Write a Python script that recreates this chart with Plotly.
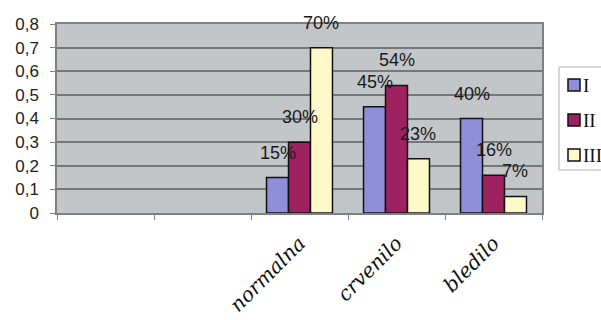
import plotly.graph_objects as go

# Categories on the x axis (the first two slots are left blank)
categories = ["", " ", "normalna", "crvenilo", "bledilo"]
series_names = ["I", "II", "III"]
series_values = {
    "I":   [None, None, 0.15, 0.45, 0.40],
    "II":  [None, None, 0.30, 0.54, 0.16],
    "III": [None, None, 0.70, 0.23, 0.07],
}
y_ticks = [0, 0.1, 0.2, 0.3, 0.4, 0.5, 0.6, 0.7, 0.8]

colors = {"I": "#8F8FD9", "II": "#9E2260", "III": "#FFF9C9"}

W, H = 601, 320
margin = dict(l=57, r=59, t=24, b=107)
bargap = 0.32
plot_w = W - margin["l"] - margin["r"]
plot_h = H - margin["t"] - margin["b"]


def px_x(px):
    """Pixel column -> paper x."""
    return (px - margin["l"]) / plot_w


def px_y(py):
    """Pixel row -> paper y."""
    return (H - margin["b"] - py) / plot_h


fig = go.Figure()
for name in series_names:
    fig.add_trace(go.Bar(
        x=categories, y=series_values[name], name=name,
        marker=dict(color=colors[name], line=dict(color="#111111", width=1.5)),
        showlegend=False,
    ))

# Percentage labels above each bar, centred on the bar
slot_px = plot_w / len(categories)
bar_px = slot_px * (1 - bargap) / len(series_names)
for i, name in enumerate(series_names):
    for cat, v in zip(categories, series_values[name]):
        if v is None:
            continue
        fig.add_annotation(
            x=cat, y=v, text=f"{round(v * 100)}%", showarrow=False,
            xref="x", yref="y", yanchor="bottom",
            xshift=(i - (len(series_names) - 1) / 2) * bar_px, yshift=13,
            font=dict(family="Liberation Sans, Arial", size=18, color="#1a1a1a"),
        )

# Legend box at the right edge with a swatch and label per series
fig.add_shape(type="rect", xref="paper", yref="paper",
              x0=px_x(559), x1=px_x(640), y0=px_y(170), y1=px_y(67),
              fillcolor="white", line=dict(color="#B0B0B0", width=1), layer="above")
for i, name in enumerate(series_names):
    cy = 85 + 35 * i
    fig.add_shape(type="rect", xref="paper", yref="paper",
                  x0=px_x(568), x1=px_x(580), y0=px_y(cy + 6), y1=px_y(cy - 6),
                  fillcolor=colors[name], line=dict(color="#111111", width=1.5),
                  layer="above")
    fig.add_annotation(
        x=px_x(581), y=px_y(cy), xref="paper", yref="paper",
        text=name, showarrow=False, xanchor="left", yanchor="middle",
        font=dict(family="Liberation Serif, Times New Roman", size=19, color="#111111"),
    )

fig.update_layout(
    width=W, height=H, margin=dict(margin, autoexpand=False),
    paper_bgcolor="white", plot_bgcolor="#C3C6C8",
    barmode="group", bargap=bargap, bargroupgap=0,
    separators=",.",
    showlegend=False,
)

fig.update_xaxes(
    type="category", categoryorder="array", categoryarray=categories,
    range=[-0.5, len(categories) - 0.5],
    tickson="boundaries", ticks="outside", ticklen=5, tickcolor="#808080",
    tickangle=-45, ticklabelstandoff=9,
    tickfont=dict(family="DejaVu Serif", size=20, color="#111111", style="italic"),
    showline=True, linecolor="#808080", linewidth=1.5, mirror=True,
    showgrid=False, zeroline=False,
)
fig.update_yaxes(
    range=[0, 0.8], tickvals=y_ticks,
    ticks="outside", ticklen=5, tickcolor="#808080", ticklabelstandoff=8,
    tickfont=dict(family="Liberation Sans, Arial", size=17, color="#222222"),
    showgrid=True, gridcolor="#75787B", gridwidth=1.5,
    showline=True, linecolor="#808080", linewidth=1.5, mirror=True,
    zeroline=False,
)

fig.write_html("out.html")
